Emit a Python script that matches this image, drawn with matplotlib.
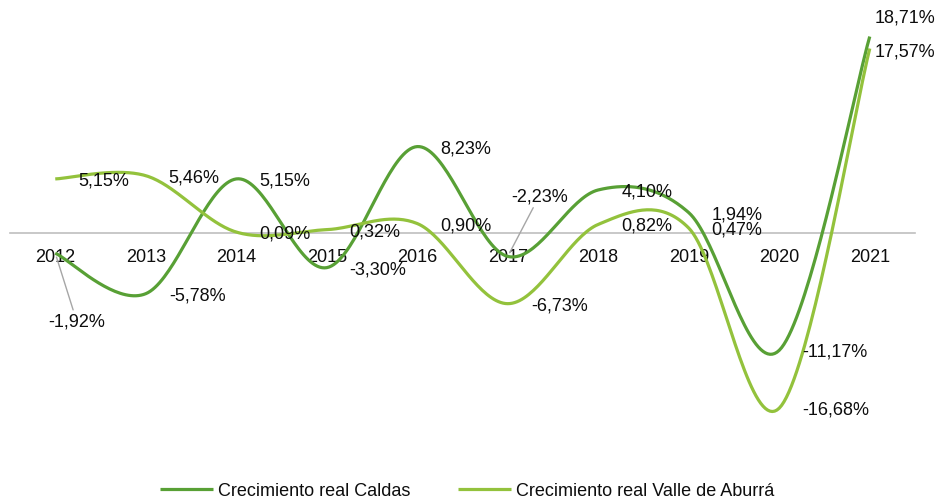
import numpy as np
import matplotlib.pyplot as plt

plt.rcParams['font.family'] = ['Liberation Sans', 'DejaVu Sans']

years = ['2012', '2013', '2014', '2015', '2016', '2017', '2018', '2019', '2020', '2021']
caldas = [-1.92, -5.78, 5.15, -3.30, 8.23, -2.23, 4.10, 1.94, -11.17, 18.71]
valle = [5.15, 5.46, 0.09, 0.32, 0.90, -6.73, 0.82, 0.47, -16.68, 17.57]

dark = '#58A035'
light = '#93C23C'
txt = '#0d0d0d'


def excel_smooth(y, n=40):
    # bezier smoothing like the "smoothed line" option in excel
    pts = np.column_stack([np.arange(len(y)), np.asarray(y, dtype=float)])
    out = []
    t = np.linspace(0, 1, n)[:, None]
    for i in range(len(pts) - 1):
        p0 = pts[max(i - 1, 0)]
        p1 = pts[i]
        p2 = pts[i + 1]
        p3 = pts[min(i + 2, len(pts) - 1)]
        c1 = p1 + (p2 - p0) / 6
        c2 = p2 - (p3 - p1) / 6
        seg = (1 - t)**3 * p1 + 3 * (1 - t)**2 * t * c1 + 3 * (1 - t) * t**2 * c2 + t**3 * p2
        out.append(seg if i == 0 else seg[1:])
    return np.vstack(out)


def pct(v):
    return '{:.2f}%'.format(v).replace('.', ',')


fig = plt.figure(figsize=(9.4, 5.02), dpi=100)
ax = fig.add_axes([10 / 940, 58 / 502, 905 / 940, 420 / 502])
ax.set_xlim(-0.5, len(years) - 0.5)
ax.set_ylim(-20, 20)

for vals, col, lab in [(caldas, dark, 'Crecimiento real Caldas'),
                       (valle, light, 'Crecimiento real Valle de Aburrá')]:
    s = excel_smooth(vals)
    ax.plot(s[:, 0], s[:, 1], color=col, lw=2.3, label=lab, solid_capstyle='butt')

# label offsets in pixels (right, down); default is right of the point
default_off = (23, 1)
caldas_off = {0: (-7, 68), 5: (3, -60), 9: (5, -20)}
valle_off = {9: (5, 2)}
leader = {0, 5}

for vals, offs, series in [(caldas, caldas_off, 'c'), (valle, valle_off, 'v')]:
    for i, v in enumerate(vals):
        dx, dy = offs.get(i, default_off)
        kw = {}
        if series == 'c' and i in leader:
            kw['arrowprops'] = dict(arrowstyle='-', color='#A6A6A6', lw=1,
                                    shrinkA=0, shrinkB=3)
        ax.annotate(pct(v), xy=(i, v), xytext=(dx, -dy), textcoords='offset pixels',
                    ha='left', va='center', fontsize=13, color=txt, zorder=5, **kw)

# category axis crossing at zero
for sp in ['left', 'right', 'top']:
    ax.spines[sp].set_visible(False)
ax.spines['bottom'].set_position(('data', 0))
ax.spines['bottom'].set_color('#BFBFBF')
ax.spines['bottom'].set_linewidth(1.2)
ax.spines['bottom'].set_zorder(0.5)
ax.set_xticks(range(len(years)))
ax.set_xticklabels(years, fontsize=13, color=txt)
ax.tick_params(axis='x', length=0, pad=10.5)
ax.set_yticks([])

leg = fig.legend(loc='center', bbox_to_anchor=(0.497, 0.02), ncol=2, frameon=False,
                 fontsize=13, handlelength=2.93, handletextpad=0.28, columnspacing=2.6,
                 borderpad=0)
for t in leg.get_texts():
    t.set_color(txt)

fig.savefig('out.png', dpi=100)
